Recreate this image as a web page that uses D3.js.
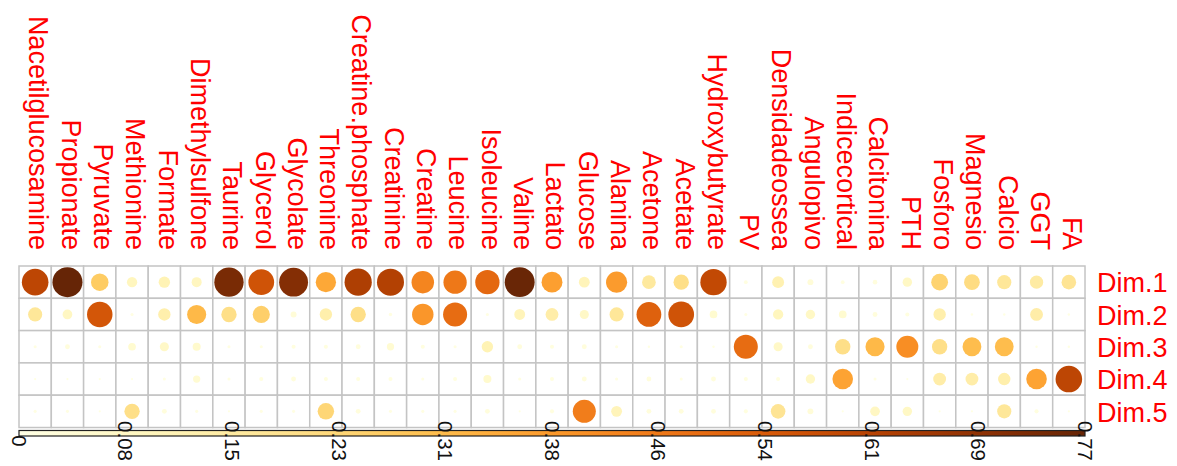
<!DOCTYPE html>
<html>
<head>
<meta charset="utf-8">
<script src="https://cdn.jsdelivr.net/npm/d3@7"></script>
<style>
  html, body { margin: 0; padding: 0; background: #ffffff; }
  svg { display: block; font-family: "Liberation Sans", Arial, Helvetica, sans-serif; }
</style>
</head>
<body>
<svg id="chart" width="1177" height="466"></svg>
<script>
// Variables (columns) and principal dimensions (rows)
const variables = ["Nacetilglucosamine", "Propionate", "Pyruvate", "Methionine", "Formate",
  "Dimethylsulfone", "Taurine", "Glycerol", "Glycolate", "Threonine", "Creatine.phosphate",
  "Creatinine", "Creatine", "Leucine", "Isoleucine", "Valine", "Lactato", "Glucose", "Alanina",
  "Acetone", "Acetate", "Hydroxybutyrate", "PV", "Densidadeossea", "Angulopivo",
  "Indicecortical", "Calcitonina", "PTH", "Fosforo", "Magnesio", "Calcio", "GGT", "FA"];
const dims = ["Dim.1", "Dim.2", "Dim.3", "Dim.4", "Dim.5"];

// Quality of representation of each variable on each dimension
const dim1 = [0.60, 0.766, 0.26, 0.09, 0.11, 0.085, 0.73, 0.56, 0.71, 0.35, 0.63, 0.62, 0.43,
  0.46, 0.50, 0.76, 0.37, 0.10, 0.38, 0.16, 0.20, 0.59, 0.012, 0.12, 0.03, 0.012, 0.018, 0.075,
  0.24, 0.21, 0.17, 0.15, 0.18];
const dim2 = [0.17, 0.08, 0.55, 0.008, 0.13, 0.31, 0.20, 0.25, 0.03, 0.13, 0.20, 0.01, 0.39,
  0.49, 0.008, 0.10, 0.14, 0.07, 0.17, 0.52, 0.56, 0.05, 0.008, 0.09, 0.075, 0.05, 0.02, 0.014,
  0.13, 0.005, 0.005, 0.14, 0.005];
const dim3 = [0.008, 0.02, 0.008, 0.05, 0.07, 0.055, 0.008, 0.008, 0.014, 0.014, 0.02, 0.045,
  0.014, 0.008, 0.11, 0.02, 0.014, 0.02, 0.008, 0.005, 0.008, 0.005, 0.49, 0.07, 0.02, 0.20,
  0.31, 0.41, 0.20, 0.30, 0.30, 0.005, 0.005];
const dim4 = [0.004, 0.004, 0.004, 0.004, 0.008, 0.045, 0.008, 0.014, 0.02, 0.014, 0.014, 0.014,
  0.008, 0.014, 0.055, 0.008, 0.014, 0.02, 0.008, 0.02, 0.008, 0.02, 0.014, 0.014, 0.075, 0.36,
  0.008, 0.004, 0.14, 0.14, 0.13, 0.36, 0.60];
const dim5 = [0.008, 0.008, 0.004, 0.20, 0.02, 0.008, 0.004, 0.008, 0.008, 0.23, 0.02, 0.008,
  0.008, 0.008, 0.02, 0.004, 0.014, 0.45, 0.10, 0.02, 0.02, 0.02, 0.014, 0.18, 0.03, 0.004,
  0.08, 0.075, 0.004, 0.004, 0.17, 0.014, 0.004];
const dimValues = [dim1, dim2, dim3, dim4, dim5];

// Colour legend limits and tick labels
const valueMax = 0.766;
const legendTicks = ["0", "0.08", "0.15", "0.23", "0.31", "0.38", "0.46", "0.54", "0.61", "0.69", "0.77"];

const svg = d3.select("#chart");

const gridLeft = 19, gridRight = 1085, gridTop = 266, gridBottom = 427.5;

const x = d3.scaleBand().domain(variables).range([gridLeft, gridRight]).padding(0);
const y = d3.scaleBand().domain(dims).range([gridTop, gridBottom]).padding(0);
const color = d3.scaleSequential(d3.interpolateYlOrBr).domain([0, valueMax]);
const radius = d3.scaleSqrt().domain([0, valueMax]).range([0, x.bandwidth() * 0.465]);

const cells = [];
dims.forEach((d, i) => {
  variables.forEach((v, j) => cells.push({ dim: d, variable: v, value: dimValues[i][j] }));
});

// Grid cells
svg.append("g")
  .selectAll("rect")
  .data(cells)
  .join("rect")
  .attr("x", d => x(d.variable))
  .attr("y", d => y(d.dim))
  .attr("width", x.bandwidth())
  .attr("height", y.bandwidth())
  .attr("fill", "#ffffff")
  .attr("stroke", "#c4c4c4")
  .attr("stroke-width", 1.5);

// Circles
svg.append("g")
  .selectAll("circle")
  .data(cells)
  .join("circle")
  .attr("cx", d => x(d.variable) + x.bandwidth() / 2)
  .attr("cy", d => y(d.dim) + y.bandwidth() / 2)
  .attr("r", d => radius(d.value))
  .attr("fill", d => color(d.value));

// Column labels, rotated to read downward
svg.append("g")
  .selectAll("text")
  .data(variables)
  .join("text")
  .attr("transform", d => `translate(${x(d) + x.bandwidth() / 2},250) rotate(90)`)
  .attr("text-anchor", "end")
  .attr("dy", 5.7)
  .attr("font-size", 27)
  .attr("fill", "#ff0000")
  .text(d => d);

// Row labels
svg.append("g")
  .selectAll("text")
  .data(dims)
  .join("text")
  .attr("x", 1097)
  .attr("y", d => y(d) + y.bandwidth() / 2)
  .attr("dy", 10.2)
  .attr("font-size", 27)
  .attr("fill", "#ff0000")
  .text(d => d);

// Colour legend bar
const legendScale = d3.scaleLinear().domain([0, valueMax]).range([gridLeft, gridRight]);
const defs = svg.append("defs");
const grad = defs.append("linearGradient").attr("id", "legendGrad")
  .attr("x1", "0%").attr("x2", "100%").attr("y1", "0%").attr("y2", "0%");
d3.range(0, 1.0001, 0.02).forEach(t => {
  grad.append("stop").attr("offset", `${t * 100}%`).attr("stop-color", d3.interpolateYlOrBr(t));
});
svg.append("rect")
  .attr("x", legendScale(0))
  .attr("y", 430.5)
  .attr("width", legendScale(valueMax) - legendScale(0))
  .attr("height", 5.5)
  .attr("fill", "url(#legendGrad)")
  .attr("stroke", "#222222")
  .attr("stroke-width", 1.2);

// Legend tick labels, rotated to read downward
svg.append("g")
  .selectAll("text")
  .data(legendTicks)
  .join("text")
  .attr("transform", (d, i) => `translate(${legendScale(i * valueMax / 10)},441) rotate(90)`)
  .attr("text-anchor", "middle")
  .attr("dy", "0.35em")
  .attr("font-size", 20.5)
  .attr("fill", "#111111")
  .text(d => d);
</script>
</body>
</html>
